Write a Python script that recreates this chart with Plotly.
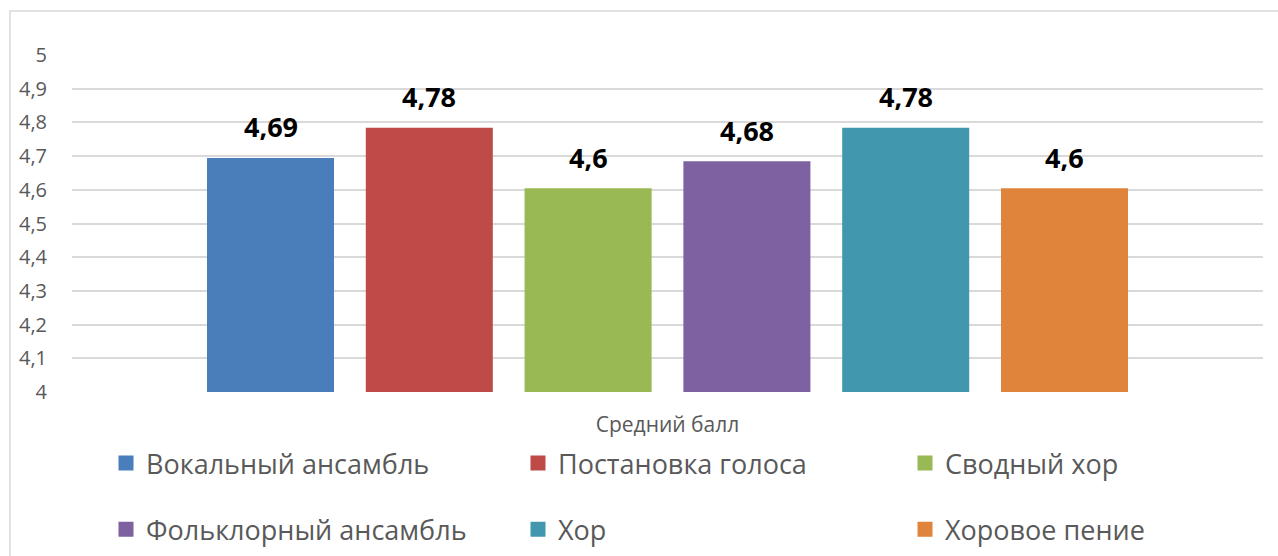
import plotly.graph_objects as go

categories = ["Средний балл"]
series_names = ["Вокальный ансамбль", "Постановка голоса", "Сводный хор",
                "Фольклорный ансамбль", "Хор", "Хоровое пение"]
series_values = [4.69, 4.78, 4.6, 4.68, 4.78, 4.6]
series_colors = ["#4a7ebb", "#be4b48", "#98b954", "#7e61a1", "#4197ae", "#e0843c"]
y_ticks = [4.0, 4.1, 4.2, 4.3, 4.4, 4.5, 4.6, 4.7, 4.8, 4.9, 5.0]

FONT = "Open Sans"
GRAY = "#595959"
BARGAP = 0.2
N = len(series_names)

# legend columns: each column is its own legend, rows separated via groups
legend_of = ["legend", "legend2", "legend3", "legend", "legend2", "legend3"]

fig = go.Figure()
for i, (name, val, col) in enumerate(zip(series_names, series_values, series_colors)):
    fig.add_trace(go.Bar(
        x=categories, y=[val], name=name,
        marker=dict(color=col, line=dict(width=3, color=col)),
        legend=legend_of[i], legendgroup=f"g{i}",
    ))

# data labels above bars
slot = (1 - BARGAP) / N
for i, val in enumerate(series_values):
    fig.add_annotation(
        x=-(1 - BARGAP) / 2 + slot * (i + 0.5), y=val, xref="x", yref="y",
        text="<b>" + f"{val:g}".replace(".", ",") + "</b>",
        showarrow=False, yanchor="bottom", yshift=12,
        font=dict(family=FONT, size=27, color="#000000"),
    )

W, H = 1278, 556
L, R, T, B = 72, 15, 55, 164
pw, ph = W - L - R, H - T - B

def px_x(px):
    return (px - L) / pw

def px_y(py):
    return (H - B - py) / ph

legend_common = dict(
    orientation="v", xanchor="left", yanchor="top",
    font=dict(family=FONT, size=27, color=GRAY),
    bgcolor="rgba(0,0,0,0)", tracegroupgap=28, traceorder="grouped",
)
fig.update_layout(
    legend=dict(x=px_x(106), y=px_y(439), **legend_common),
    legend2=dict(x=px_x(518), y=px_y(439), **legend_common),
    legend3=dict(x=px_x(905), y=px_y(439), **legend_common),
)

fig.add_shape(type="rect", xref="paper", yref="paper",
              x0=px_x(10), x1=px_x(1300), y0=px_y(600), y1=px_y(11),
              line=dict(color="#d9d9d9", width=1.5), fillcolor="rgba(0,0,0,0)",
              layer="below")

fig.update_layout(
    width=W, height=H,
    margin=dict(l=L, r=R, t=T, b=B, pad=0, autoexpand=False),
    paper_bgcolor="white", plot_bgcolor="white",
    barmode="group", bargap=BARGAP, bargroupgap=0.219,
    separators=", ",
    showlegend=True,
    xaxis=dict(
        type="category", showgrid=False, zeroline=False, showline=False,
        ticks="outside", ticklen=14, tickcolor="rgba(0,0,0,0)",
        tickfont=dict(family=FONT, size=21, color=GRAY),
    ),
    yaxis=dict(
        range=[4, 5], tickvals=y_ticks, showgrid=True,
        gridcolor="#d9d9d9", gridwidth=1.5, zeroline=False, showline=False,
        ticks="outside", ticklen=20, tickcolor="rgba(0,0,0,0)",
        tickfont=dict(family=FONT, size=20, color=GRAY),
    ),
)

fig.write_html("out.html", config={"displayModeBar": False},
               post_script="document.body.style.margin='0';")
